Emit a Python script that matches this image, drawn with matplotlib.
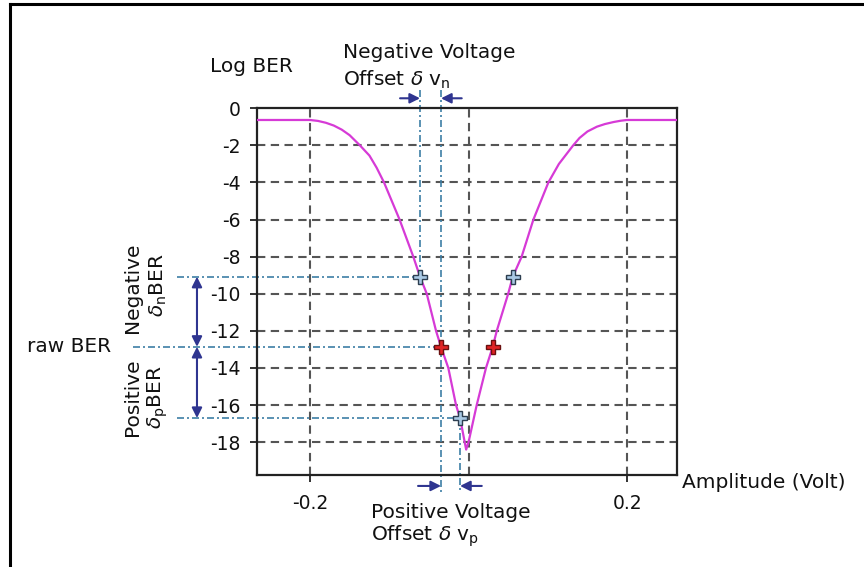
import matplotlib
matplotlib.use("Agg")
import matplotlib.pyplot as plt
from matplotlib.lines import Line2D

plt.rcParams["font.family"] = ["DejaVu Sans"]
plt.rcParams["axes.unicode_minus"] = False
plt.rcParams["mathtext.fontset"] = "dejavusans"

# BER bathtub curve: amplitude (V) vs log10(BER)
amplitude = [-0.2665, -0.200, -0.190, -0.180, -0.170, -0.160, -0.150, -0.137,
             -0.125, -0.116, -0.1066, -0.087, -0.0697, -0.0612, -0.0527,
             -0.041, -0.0347, -0.0255, -0.0158, -0.0107, -0.003, 0.000,
             0.0103, 0.022, 0.0305, 0.0356, 0.050, 0.0558, 0.067, 0.0818,
             0.1007, 0.114, 0.132, 0.140, 0.150, 0.162, 0.172, 0.183,
             0.192, 0.200, 0.263]
log_ber = [-0.63, -0.63, -0.68, -0.78, -0.93, -1.15, -1.45, -2.0,
           -2.55, -3.2, -4.0, -6.0, -8.0, -9.08, -10.0,
           -12.0, -12.86, -14.0, -16.0, -16.7, -18.4, -18.0,
           -16.0, -14.0, -12.86, -12.0, -10.0, -9.08, -8.0, -6.0,
           -4.0, -3.0, -2.0, -1.6, -1.25, -0.99, -0.85, -0.74,
           -0.67, -0.63, -0.63]

# operating points
raw_ber = -12.86
neg_ber = -9.08
pos_ber = -16.7
raw_x = [-0.0347, 0.0305]
neg_x = [-0.0612, 0.0558]
pos_x = -0.0107

y_ticks = [0, -2, -4, -6, -8, -10, -12, -14, -16, -18]
x_ticks = [-0.2, 0.2]
x_tick_labels = ["-0.2", "0.2"]

W, H = 864, 567
fig = plt.figure(figsize=(W / 100, H / 100), dpi=100)
ax = fig.add_axes([257.3 / W, 1 - 475 / H, (677 - 257.3) / W, (475 - 108.3) / H])
ax.set_xlim(-0.2665, 0.263)
ax.set_ylim(-19.77, 0)

grid_kw = dict(color="#555555", lw=1.5, linestyle=(0, (4.0, 2.6)), zorder=1)
for yv in y_ticks[1:]:
    ax.axhline(yv, **grid_kw)
for xv in [-0.2, 0.0, 0.2]:
    ax.axvline(xv, **grid_kw)

ax.set_yticks(y_ticks)
ax.set_yticklabels([str(v) for v in y_ticks])
ax.set_xticks(x_ticks)
ax.set_xticklabels(x_tick_labels)
ax.tick_params(direction="out", length=5, width=1.3, color="#222222",
               labelsize=13.5, labelcolor="#111111")
ax.tick_params(axis="y", pad=7)
ax.tick_params(axis="x", pad=9)
for s in ax.spines.values():
    s.set_linewidth(1.6)
    s.set_color("#222222")

ax.plot(amplitude, log_ber, color="#d63ad6", lw=1.6, zorder=3)

ln = dict(color="#3d7fa6", lw=1.2, linestyle=(0, (4.2, 1.8, 1.2, 1.8)),
          clip_on=False, zorder=2)
top_y = 0.99
bot_y = -20.74
# vertical reference lines
ax.plot([neg_x[0], neg_x[0]], [neg_ber, top_y], **ln)
ax.plot([raw_x[0], raw_x[0]], [top_y, bot_y], **ln)
ax.plot([pos_x, pos_x], [pos_ber, bot_y], **ln)
# horizontal reference lines
ax.plot([-0.368, neg_x[0]], [neg_ber, neg_ber], **ln)
ax.plot([-0.423, raw_x[0]], [raw_ber, raw_ber], **ln)
ax.plot([-0.368, pos_x], [pos_ber, pos_ber], **ln)

ax.plot(neg_x + [pos_x], [neg_ber, neg_ber, pos_ber], linestyle="none",
        marker="P", markersize=10, markerfacecolor="#a9c9e4",
        markeredgecolor="#2d3e50", markeredgewidth=1.0, zorder=5)
ax.plot(raw_x, [raw_ber, raw_ber], linestyle="none",
        marker="P", markersize=10, markerfacecolor="#e02424",
        markeredgecolor="#6a1010", markeredgewidth=1.0, zorder=5)

arrow_color = "#2f3590"


def arrow(xy_from, xy_to, style="-|>"):
    ax.annotate("", xy=xy_to, xytext=xy_from, xycoords="data",
                textcoords="data", annotation_clip=False,
                arrowprops=dict(arrowstyle=style, color=arrow_color, lw=1.5,
                                mutation_scale=15, shrinkA=0, shrinkB=0))


# voltage offset arrows
arrow((-0.0864, 0.54), (neg_x[0], 0.54))
arrow((-0.0086, 0.54), (raw_x[0], 0.54))
arrow((-0.0637, -20.36), (raw_x[0], -20.36))
arrow((0.0167, -20.36), (pos_x, -20.36))
# BER margin arrows
arrow((-0.3426, neg_ber), (-0.3426, raw_ber), style="<|-|>")
arrow((-0.3426, raw_ber), (-0.3426, pos_ber), style="<|-|>")


def ftext(x, y, s, **kw):
    kw.setdefault("fontsize", 14.5)
    kw.setdefault("color", "#111111")
    fig.text(x / W, 1 - y / H, s, **kw)


ftext(210, 67, "Log BER", ha="left", va="center")
ftext(343, 53, "Negative Voltage", ha="left", va="center")
ftext(343, 80, r"Offset $\delta$ v$_\mathregular{n}$", ha="left", va="center")
ftext(371, 512, "Positive Voltage", ha="left", va="center")
ftext(371, 536, r"Offset $\delta$ v$_\mathregular{p}$", ha="left", va="center")
ftext(682, 483, "Amplitude (Volt)", ha="left", va="center")
ftext(27, 347, "raw BER", ha="left", va="center")
ftext(133, 288, "Negative", ha="center", va="center", rotation=90)
ftext(158, 285, r"$\delta_\mathregular{n}$BER", ha="center", va="center", rotation=90)
ftext(133, 397, "Positive", ha="center", va="center", rotation=90)
ftext(158, 397, r"$\delta_\mathregular{p}$BER", ha="center", va="center", rotation=90)

# frame
fig.add_artist(Line2D([10 / W, 10 / W], [0, 1 - 4 / H], transform=fig.transFigure,
                      color="black", lw=2.2))
fig.add_artist(Line2D([10 / W, 1], [1 - 4 / H, 1 - 4 / H], transform=fig.transFigure,
                      color="black", lw=2.2))

fig.savefig("out.png", dpi=100)
